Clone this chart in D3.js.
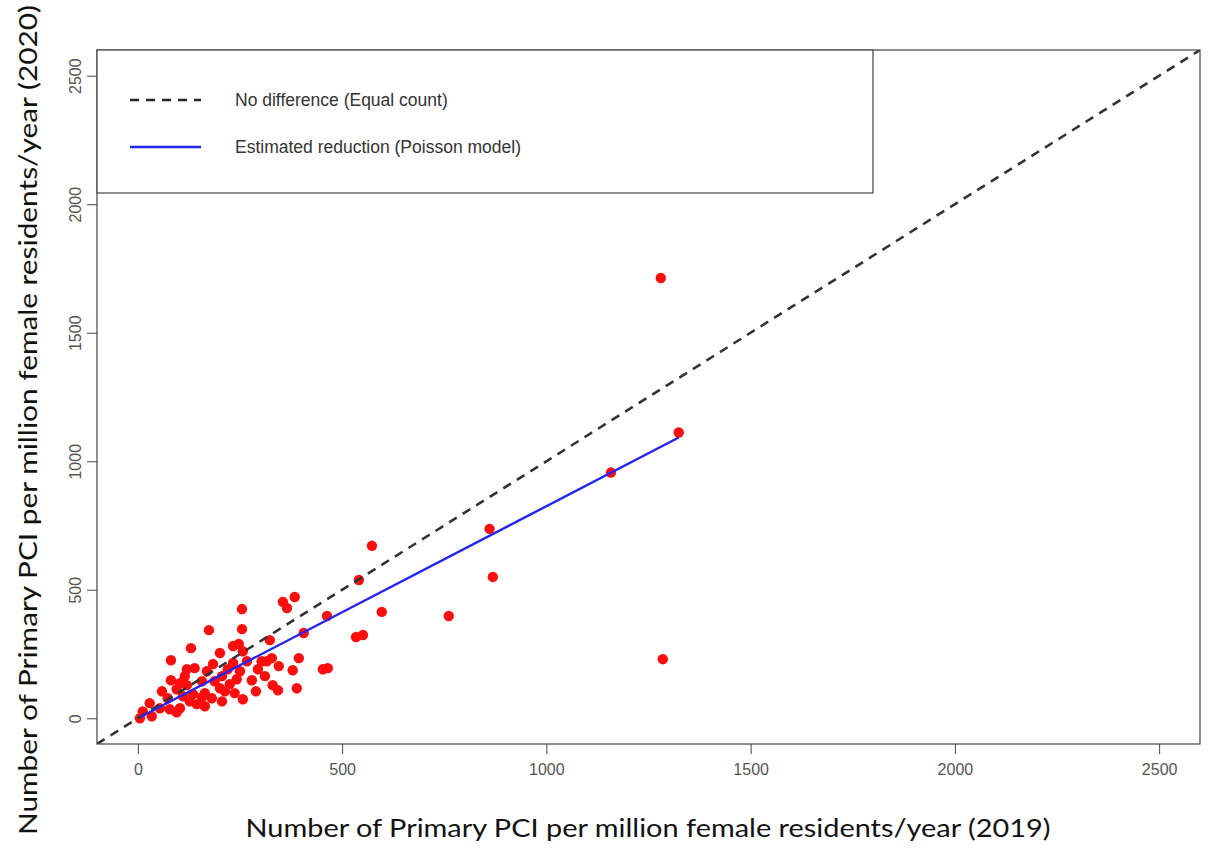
<!DOCTYPE html>
<html>
<head>
<meta charset="utf-8">
<script src="https://cdn.jsdelivr.net/npm/d3@7/dist/d3.min.js"></script>
<style>
  html, body { margin: 0; padding: 0; background: #fff; }
  svg { display: block; }
</style>
</head>
<body>
<svg id="chart" width="1208" height="854"></svg>
<script>
// Primary PCI per million female residents/year, 2019 vs 2020, one point per area
const pci2019 = [1280, 1324, 1158, 1285, 861, 869, 761, 597, 573, 541, 463, 534, 551, 453, 465,
  384, 355, 365, 255, 255, 174, 130, 81, 406, 323, 233, 247, 257, 201, 394, 328, 303, 316,
  184, 233, 345, 294, 379, 250, 169, 206, 311, 242, 279, 330, 343, 389, 201, 213, 164, 181,
  206, 257, 157, 120, 139, 81, 103, 120, 95, 73, 110, 135, 157, 29, 54, 103, 127, 144, 12,
  34, 5, 78, 95, 225, 267, 289, 188, 237, 59, 164, 115, 220];
const pci2020 = [1713, 1112, 956, 230, 737, 550, 398, 414, 671, 538, 398, 316, 324, 191, 195,
  472, 453, 429, 425, 347, 343, 273, 226, 332, 304, 281, 289, 261, 254, 234, 234, 222, 222,
  211, 215, 203, 191, 187, 183, 183, 164, 164, 152, 148, 129, 109, 117, 117, 105, 98, 78,
  66, 74, 144, 191, 195, 148, 137, 129, 113, 78, 86, 94, 82, 59, 39, 39, 66, 55, 27,
  8, 0, 35, 23, 133, 222, 105, 144, 98, 105, 47, 164, 191];

// Poisson model: 2020 count as a fixed proportion of 2019 count
const poissonRatio = 0.825;

const axisTicks = [0, 500, 1000, 1500, 2000, 2500];
const axisDomain = [-100, 2600];

const legendLabels = ["No difference (Equal count)", "Estimated reduction (Poisson model)"];
const xTitle = "Number of Primary PCI per million female residents/year (2019)";
const yTitle = "Number of Primary PCI per million female residents/year (2020)";

const points = pci2019.map((v, i) => ({ x: v, y: pci2020[i] }));

const svg = d3.select("#chart");
const plot = { left: 97, right: 1200, top: 50, bottom: 744 };

const x = d3.scaleLinear().domain(axisDomain).range([plot.left, plot.right]);
const y = d3.scaleLinear().domain(axisDomain).range([plot.bottom, plot.top]);

const defs = svg.append("defs");
defs.append("clipPath").attr("id", "plotClip")
  .append("rect")
  .attr("x", plot.left).attr("y", plot.top)
  .attr("width", plot.right - plot.left).attr("height", plot.bottom - plot.top);
defs.append("filter").attr("id", "soft")
  .append("feGaussianBlur").attr("stdDeviation", 0.5);

// Scatter of areas
svg.append("g").attr("clip-path", "url(#plotClip)").attr("filter", "url(#soft)")
  .selectAll("circle").data(points).join("circle")
  .attr("cx", d => x(d.x)).attr("cy", d => y(d.y))
  .attr("r", 5.2).attr("fill", "#ff0a0a");

// Identity line (equal counts)
const lines = svg.append("g").attr("clip-path", "url(#plotClip)");
lines.append("line")
  .attr("x1", x(axisDomain[0])).attr("y1", y(axisDomain[0]))
  .attr("x2", x(axisDomain[1])).attr("y2", y(axisDomain[1]))
  .attr("stroke", "#333").attr("stroke-width", 2.6)
  .attr("stroke-dasharray", "9,7");

// Fitted Poisson line over the observed 2019 range
const [xMin, xMax] = d3.extent(pci2019);
lines.append("line")
  .attr("x1", x(xMin)).attr("y1", y(xMin * poissonRatio))
  .attr("x2", x(xMax)).attr("y2", y(xMax * poissonRatio))
  .attr("stroke", "#2424f0").attr("stroke-width", 2.4);

// Axes
const tickFont = "'Liberation Sans Narrow', 'Liberation Sans', Arial, sans-serif";
const fmt = d3.format("d");
const xAxis = svg.append("g").attr("transform", `translate(0,${plot.bottom})`)
  .call(d3.axisBottom(x).tickValues(axisTicks).tickFormat(fmt)
    .tickSize(10).tickPadding(10).tickSizeOuter(0));
const yAxis = svg.append("g").attr("transform", `translate(${plot.left},0)`)
  .call(d3.axisLeft(y).tickValues(axisTicks).tickFormat(fmt)
    .tickSize(10).tickPadding(6).tickSizeOuter(0));
[xAxis, yAxis].forEach(a => {
  a.select(".domain").remove();
  a.selectAll(".tick line").attr("stroke", "#444");
  a.selectAll(".tick text").attr("fill", "#555")
    .style("font-family", tickFont).style("font-size", "16px");
});
yAxis.selectAll(".tick text")
  .attr("text-anchor", "middle")
  .attr("x", null).attr("dy", null)
  .attr("transform", "translate(-16,0) rotate(-90)");

// Plot frame
svg.append("rect")
  .attr("x", plot.left).attr("y", plot.top)
  .attr("width", plot.right - plot.left).attr("height", plot.bottom - plot.top)
  .attr("fill", "none").attr("stroke", "#444").attr("stroke-width", 1.2);

// Legend
const legend = svg.append("g");
legend.append("rect")
  .attr("x", plot.left).attr("y", plot.top).attr("width", 776).attr("height", 143)
  .attr("fill", "#fff").attr("stroke", "#444").attr("stroke-width", 1.2);
const legendStyles = [
  { stroke: "#222", dash: "9,7", width: 2.6 },
  { stroke: "#2424f0", dash: null, width: 2.4 }
];
legendLabels.forEach((label, i) => {
  const ly = 100 + i * 47;
  legend.append("line")
    .attr("x1", 130).attr("x2", 201).attr("y1", ly).attr("y2", ly)
    .attr("stroke", legendStyles[i].stroke).attr("stroke-width", legendStyles[i].width)
    .attr("stroke-dasharray", legendStyles[i].dash);
  legend.append("text")
    .attr("x", 235).attr("y", ly).attr("dy", "0.35em")
    .attr("fill", "#333")
    .style("font-family", tickFont).style("font-size", "17.5px")
    .text(label);
});

// Axis titles
const titleFont = "Lato, 'Open Sans', sans-serif";
svg.append("text")
  .attr("x", 648).attr("y", 837)
  .attr("text-anchor", "middle")
  .attr("textLength", 805).attr("lengthAdjust", "spacingAndGlyphs")
  .style("font-family", titleFont).style("font-size", "24.5px").attr("fill", "#111")
  .text(xTitle);
svg.append("text")
  .attr("transform", "translate(37,420) rotate(-90)")
  .attr("text-anchor", "middle")
  .attr("textLength", 830).attr("lengthAdjust", "spacingAndGlyphs")
  .style("font-family", titleFont).style("font-size", "24.5px").attr("fill", "#111")
  .text(yTitle);
</script>
</body>
</html>
